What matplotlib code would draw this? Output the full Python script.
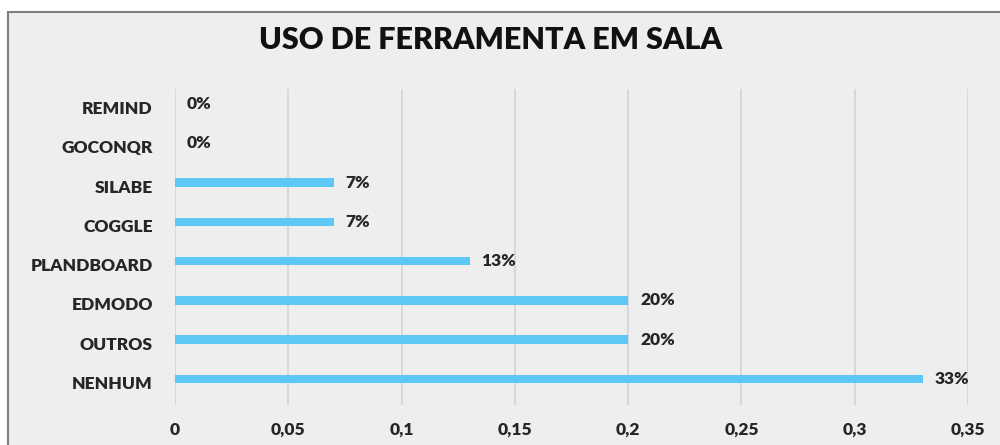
import matplotlib.pyplot as plt
import matplotlib.transforms as mtransforms
from matplotlib.patches import Rectangle

# categories from bottom to top
categories = ['NENHUM', 'OUTROS', 'EDMODO', 'PLANDBOARD', 'COGGLE', 'SILABE', 'GOCONQR', 'REMIND']
values = [0.33, 0.20, 0.20, 0.13, 0.07, 0.07, 0.0, 0.0]
labels = ['33%', '20%', '20%', '13%', '7%', '7%', '0%', '0%']
xticks = [0, 0.05, 0.1, 0.15, 0.2, 0.25, 0.3, 0.35]
xtick_labels = ['0', '0,05', '0,1', '0,15', '0,2', '0,25', '0,3', '0,35']

plt.rcParams['font.family'] = ['Lato', 'DejaVu Sans']

fig = plt.figure(figsize=(10, 4.45), dpi=100)
fig.patch.set_facecolor('white')

# chart area box (runs off the right and bottom edge)
box = Rectangle((0.008, -0.1), 1.1, 1.073, transform=fig.transFigure,
                facecolor='#eeeeee', edgecolor='#7f7f7f', linewidth=1.5, zorder=-10)
fig.patches.append(box)

ax = fig.add_axes([0.175, 0.09, 0.793, 0.71])
ax.set_facecolor('none')
ax.set_zorder(5)

y = range(len(categories))
ax.barh(y, values, height=0.22, color='#5bc8f5', zorder=3)

for yi, v, lab in zip(y, values, labels):
    ax.text(v + 0.0053, yi, lab, va='center', ha='left', fontsize=12.5,
            fontweight='heavy', color='#262626')

ax.set_xlim(0, 0.35)
ax.set_ylim(-0.66, 7.38)
ax.set_xticks(xticks)
ax.set_xticklabels(xtick_labels, fontsize=12.5, fontweight='heavy', color='#262626')
ax.set_yticks(list(y))
ax.set_yticklabels(categories, fontsize=12.5, fontweight='heavy', color='#262626')
ax.tick_params(axis='both', length=0)
ax.tick_params(axis='y', pad=16)
ax.tick_params(axis='x', pad=12)
ax.grid(axis='x', color='#d6d6d6', linewidth=1.3, zorder=0)
for s in ax.spines.values():
    s.set_visible(False)

# category labels sit a bit lower than the bars in the original
shift = mtransforms.ScaledTranslation(0, -3.5 / 100, fig.dpi_scale_trans)
for t in ax.get_yticklabels():
    t.set_transform(t.get_transform() + shift)

fig.text(0.491, 0.91, 'USO DE FERRAMENTA EM SALA', ha='center', va='center',
         fontsize=22, fontweight='heavy', color='#111111', zorder=6)

fig.savefig('out.png', dpi=100, facecolor=fig.get_facecolor())
